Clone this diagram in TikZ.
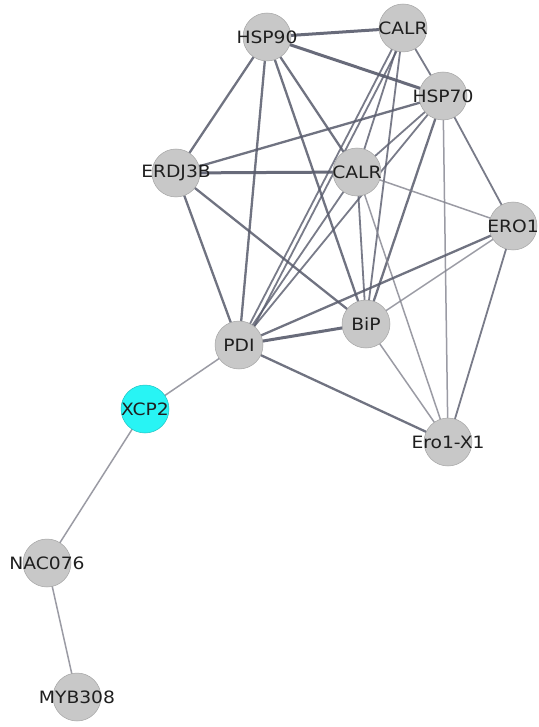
\documentclass[tikz,border=0pt]{standalone}
\usepackage{fontspec}
\newfontfamily\lblfont[FakeStretch=1.1]{DejaVu Sans}
\pgfdeclarelayer{edges}
\pgfdeclarelayer{paper}
\pgfsetlayers{paper,edges,main}
\definecolor{edgedark}{RGB}{88,91,108}
\definecolor{edgelight}{RGB}{130,131,142}
\definecolor{nodegray}{RGB}{200,200,200}
\definecolor{nodeline}{RGB}{165,165,165}
\definecolor{hilite}{RGB}{40,244,244}
\newcommand{\genelabel}[1]{\makebox[0pt]{#1}}
\tikzset{
  gene/.style={circle, minimum size=48pt, inner sep=0pt, fill=nodegray, draw=nodeline,
    line width=0.5pt, font=\lblfont\fontsize{17}{17}\selectfont, text=black!88},
  query/.style={gene, fill=hilite, draw=hilite!80!black},
  heavy/.style={draw=edgedark, line width=3pt, opacity=0.9},
  medium/.style={draw=edgedark, line width=2.3pt, opacity=0.85},
  lightw/.style={draw=edgedark, line width=1.8pt, opacity=0.8},
  faint/.style={draw=edgelight, line width=1.5pt, opacity=0.8},
}
\begin{document}
\begin{tikzpicture}[x=1pt,y=-1pt]
\begin{pgfonlayer}{paper}
\useasboundingbox[fill=white] (0,0) rectangle (538,727);
\end{pgfonlayer}
% proteins
\node[gene] (hsp90) at (267,37) {\genelabel{HSP90}};
\node[gene] (calrA) at (403,28) {\genelabel{CALR}};
\node[gene] (hsp70) at (443,96) {\genelabel{HSP70}};
\node[gene] (erdj) at (176,173) {\genelabel{ERDJ3B}};
\node[gene] (calrB) at (357,172) {\genelabel{CALR}};
\node[gene] (ero1) at (513,226) {\genelabel{ERO1}};
\node[gene] (bip) at (366,324) {\genelabel{BiP}};
\node[gene] (pdi) at (239,345) {\genelabel{PDI}};
\node[query] (xcp2) at (145,409) {\genelabel{XCP2}};
\node[gene] (erox) at (448,442) {\genelabel{Ero1-X1}};
\node[gene] (nac) at (47,563) {\genelabel{NAC076}};
\node[gene] (myb) at (77,697) {\genelabel{MYB308}};
% interactions
\begin{pgfonlayer}{edges}
\draw[heavy] (hsp90.center) -- (calrA.center);
\draw[heavy] (hsp90.center) -- (hsp70.center);
\draw[medium] (hsp90.center) -- (erdj.center);
\draw[medium] (hsp90.center) -- (pdi.center);
\draw[medium] (hsp90.center) -- (calrB.center);
\draw[medium] (hsp90.center) -- (bip.center);
\draw[lightw] (calrA.center) -- (hsp70.center);
\draw[lightw] (calrA.center) -- (calrB.center);
\draw[lightw] (calrA.center) -- (pdi.center);
\draw[lightw] ([xshift=4.4pt,yshift=-2.3pt]calrA.center) -- ([xshift=4.4pt,yshift=-2.3pt]pdi.center);
\draw[lightw] (calrA.center) -- (bip.center);
\draw[medium] (hsp70.center) -- (erdj.center);
\draw[lightw] (hsp70.center) -- (calrB.center);
\draw[lightw] (hsp70.center) -- (pdi.center);
\draw[medium] (hsp70.center) -- (bip.center);
\draw[lightw] (hsp70.center) -- (ero1.center);
\draw[faint] (hsp70.center) -- (erox.center);
\draw[heavy] (erdj.center) -- (calrB.center);
\draw[medium] (erdj.center) -- (pdi.center);
\draw[medium] (erdj.center) -- (bip.center);
\draw[lightw] (calrB.center) -- (pdi.center);
\draw[lightw] (calrB.center) -- (bip.center);
\draw[faint] (calrB.center) -- (ero1.center);
\draw[faint] (calrB.center) -- (erox.center);
\draw[medium] (ero1.center) -- (pdi.center);
\draw[faint] (ero1.center) -- (bip.center);
\draw[lightw] (ero1.center) -- (erox.center);
\draw[heavy] (pdi.center) -- (bip.center);
\draw[medium] (pdi.center) -- (erox.center);
\draw[faint] (bip.center) -- (erox.center);
\draw[faint] (pdi.center) -- (xcp2.center);
\draw[faint] (xcp2.center) -- (nac.center);
\draw[faint] (nac.center) -- (myb.center);
\end{pgfonlayer}
\end{tikzpicture}
\end{document}
